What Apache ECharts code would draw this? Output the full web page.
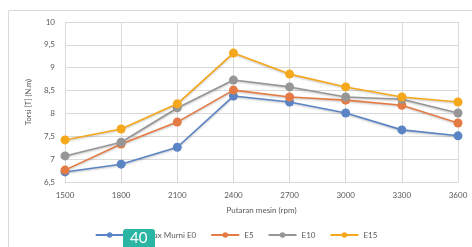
<!DOCTYPE html>
<html><head><meta charset="utf-8">
<script src="https://cdn.jsdelivr.net/npm/echarts@6/dist/echarts.min.js"></script>
<style>html,body{margin:0;padding:0;background:#fff;}#c{width:472px;height:247px;}</style>
</head><body><div id="c"></div>
<script>
const categories = ['1500','1800','2100','2400','2700','3000','3300','3600'];
const seriesNames = ['Pertamax Murni E0','E5','E10','E15'];
const e0 = [6.72, 6.89, 7.26, 8.38, 8.25, 8.01, 7.64, 7.51];
const e5 = [6.76, 7.33, 7.81, 8.51, 8.36, 8.29, 8.18, 7.79];
const e10 = [7.07, 7.37, 8.12, 8.73, 8.58, 8.36, 8.31, 8.01];
const e15 = [7.42, 7.66, 8.21, 9.32, 8.86, 8.58, 8.36, 8.25];
const colors = ['#5B84C4','#E47B45','#969696','#F5A81C'];
const values = [e0, e5, e10, e15];

const chart = echarts.init(document.getElementById('c'));
const font = 'Lato, "Open Sans", sans-serif';
chart.setOption({
  animation: false,
  color: colors,
  grid: {left: 65, right: 14, top: 22, bottom: 65},
  graphic: [
    {type:'rect', shape:{x:8.5,y:10.5,width:470,height:240}, style:{fill:'none', stroke:'#d9d9d9', lineWidth:1}, z:-1},
    {type:'rect', shape:{x:123,y:229,width:32,height:24,r:3}, style:{fill:'#2BB5A5'}, z:100},
    {type:'text', left:130, top:231, style:{text:'40', fill:'#fff', font:'15px ' + font}, z:101}
  ],
  legend: {
    bottom: 3, left: 'center',
    itemWidth: 28, itemHeight: 7, itemGap: 14,
    textStyle: {fontFamily: font, fontSize: 8, color: '#595959'},
    data: seriesNames
  },
  xAxis: {
    type: 'category', data: categories, boundaryGap: false,
    name: 'Putaran mesin (rpm)', nameLocation: 'middle', nameGap: 24,
    nameTextStyle: {fontFamily: font, fontSize: 8, color: '#595959'},
    axisLine: {lineStyle: {color: '#d9d9d9'}},
    axisTick: {show: false},
    axisLabel: {fontFamily: font, fontSize: 8, color: '#595959', margin: 9},
    splitLine: {show: true, lineStyle: {color: '#d9d9d9'}}
  },
  yAxis: {
    type: 'value', min: 6.5, max: 10, interval: 0.5,
    name: 'Torsi [T] (N.m)', nameLocation: 'middle', nameGap: 32,
    nameTextStyle: {fontFamily: font, fontSize: 7.5, color: '#595959'},
    axisLine: {show: false}, axisTick: {show: false},
    axisLabel: {fontFamily: font, fontSize: 8, color: '#595959', margin: 10,
      formatter: v => String(v).replace('.', ',')},
    splitLine: {lineStyle: {color: '#d9d9d9'}}
  },
  series: seriesNames.map((n, i) => ({
    name: n, type: 'line', data: values[i],
    symbol: 'circle', symbolSize: 9,
    lineStyle: {width: 1.6, color: colors[i], shadowColor: 'rgba(0,0,0,0.25)', shadowBlur: 2, shadowOffsetY: 1},
    itemStyle: {color: colors[i]},
    z: 2 + i
  }))
});
</script></body></html>
